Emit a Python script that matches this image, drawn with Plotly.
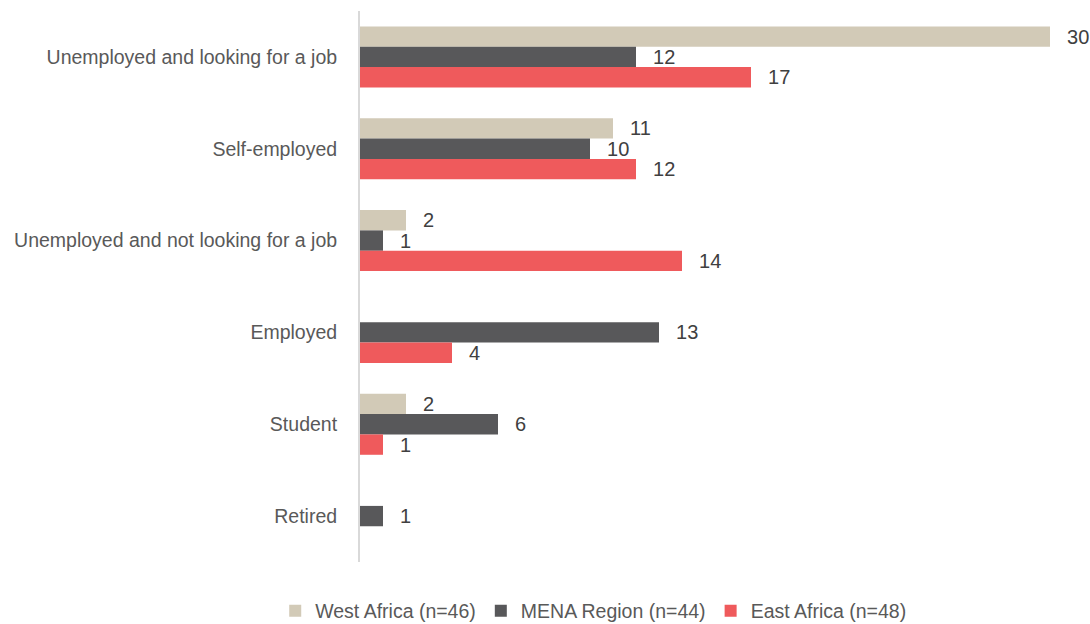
import plotly.graph_objects as go

# Employment status by region (counts)
categories = [
    "Unemployed and looking for a job",
    "Self-employed",
    "Unemployed and not looking for a job",
    "Employed",
    "Student",
    "Retired",
]
west_africa = [30, 11, 2, None, 2, None]
mena_region = [12, 10, 1, 13, 6, 1]
east_africa = [17, 12, 14, 4, 1, None]

series_names = ["West Africa (n=46)", "MENA Region (n=44)", "East Africa (n=48)"]
series_colors = ["#D2CAB7", "#58585A", "#EF5A5C"]

FONT = "Liberation Sans, Arial, sans-serif"
PAD = "\u2002\u2009"

fig = go.Figure()
for name, vals, color in zip(series_names, [west_africa, mena_region, east_africa], series_colors):
    fig.add_trace(go.Bar(
        y=categories,
        x=vals,
        name=name,
        orientation="h",
        marker=dict(color=color, line=dict(width=0)),
        text=[f"{PAD}{v}" if v is not None else "" for v in vals],
        textposition="outside",
        textfont=dict(family=FONT, size=20, color="#404040"),
        constraintext="none",
        cliponaxis=False,
        hoverinfo="x+name",
    ))

fig.update_layout(
    barmode="group",
    bargap=0.335,
    bargroupgap=0,
    width=1090,
    height=624,
    margin=dict(l=360, r=40, t=11, b=62, autoexpand=False),
    plot_bgcolor="white",
    paper_bgcolor="white",
    font=dict(family=FONT, size=19.5, color="#595959"),
    xaxis=dict(range=[0, 30], visible=False, fixedrange=True),
    yaxis=dict(
        autorange="reversed",
        automargin=False,
        showline=True,
        linecolor="#D9D9D9",
        linewidth=2,
        ticks="",
        showgrid=False,
        ticklabelstandoff=17,
        tickfont=dict(family=FONT, size=19.5, color="#595959"),
    ),
    legend=dict(
        orientation="h",
        x=0.338,
        xanchor="center",
        y=-0.089,
        yanchor="middle",
        font=dict(family=FONT, size=19.5, color="#595959"),
        itemwidth=30,
    ),
)

fig.write_html("out.html")
